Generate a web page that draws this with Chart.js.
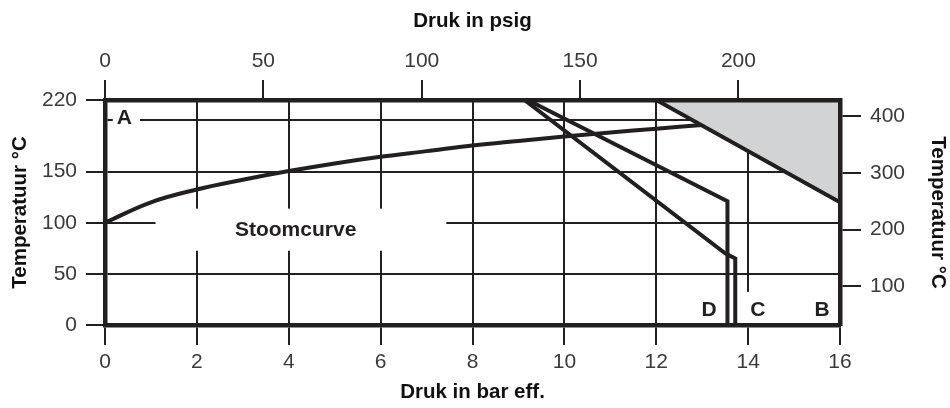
<!DOCTYPE html>
<html>
<head>
<meta charset="utf-8">
<title>Stoomcurve</title>
<script src="https://cdn.jsdelivr.net/npm/chart.js@4.4.0/dist/chart.umd.min.js"></script>
<style>
  html, body { margin: 0; padding: 0; background: #fff; }
  #wrap { width: 950px; height: 408px; position: relative; }
</style>
</head>
<body>
<div id="wrap"><canvas id="chart"></canvas></div>
<script>
// Steam curve: saturation temperature (°C) against gauge pressure (bar)
const steamPressure = [0, 1, 2, 3, 4, 5, 6, 7, 8, 9, 10, 11, 12, 13];
const steamTemp = [100, 120, 132.5, 142, 150.5, 158, 164.5, 170, 175.5, 180, 184.3, 188.3, 192, 195.5];

// Limit lines B, C and D
const pressureB = [12, 16];
const tempB = [220, 120];
const pressureC = [9.13, 13.5, 13.72, 13.72];
const tempC = [220, 70, 65, 0];
const pressureD = [9.2, 13.55, 13.55];
const tempD = [220, 121, 0];

// Axis ticks
const barTicks = [0, 2, 4, 6, 8, 10, 12, 14, 16];
const psigTicks = [0, 50, 100, 150, 200];
const tempTicks = [0, 50, 100, 150, 220];
const tempGrid = [50, 100, 150, 200];
const fahrTicks = [100, 200, 300, 400];

const barMax = 16;
const tempMax = 220;
const psiPerBar = 14.5038;

const ink = '#231f20';
const clear = 'rgba(0,0,0,0)';
const shade = '#d1d3d4';

Chart.defaults.font.family = '"Liberation Sans", Arial, sans-serif';

function toPoints(xs, ys) {
    return xs.map((v, i) => ({ x: v, y: ys[i] }));
}

function fixedTicks(values) {
    return function(scale) {
        scale.ticks = values.map(v => ({ value: v }));
    };
}

// Text labels with white gaps cut into the grid behind them
const textLabels = {
    id: 'textLabels',
    beforeDatasetsDraw(chart) {
        const { ctx, scales: { x, y } } = chart;
        const box = (x0, x1, y0, y1) => {
            const l = x.getPixelForValue(x0), r = x.getPixelForValue(x1);
            const t = y.getPixelForValue(y1), b = y.getPixelForValue(y0);
            ctx.fillRect(l, t, r - l, b - t);
        };
        const text = (s, xv, yv) => {
            ctx.fillText(s, x.getPixelForValue(xv), y.getPixelForValue(yv));
        };
        ctx.save();
        ctx.fillStyle = '#fff';
        box(0.17, 0.76, 190, 211);
        box(1.1, 7.43, 72.6, 113.8);
        box(13.83, 14.59, 0, 32.4);

        ctx.fillStyle = ink;
        ctx.font = 'bold 21px "Liberation Sans", Arial, sans-serif';
        ctx.textAlign = 'center';
        ctx.textBaseline = 'middle';
        text('A', 0.42, 202);
        text('Stoomcurve', 4.15, 92.5);
        text('D', 13.15, 14.7);
        text('C', 14.21, 14.7);
        text('B', 15.61, 14.7);
        ctx.restore();
    }
};

const lineStyle = {
    borderColor: ink,
    borderWidth: 4,
    pointRadius: 0,
    borderJoinStyle: 'miter',
    fill: false
};

const tickFont = { size: 21 };
const titleFont = { size: 20.5, weight: 'bold' };

new Chart(document.getElementById('chart'), {
    type: 'line',
    data: {
        datasets: [
            Object.assign({
                label: 'B',
                data: toPoints(pressureB, tempB),
                backgroundColor: shade
            }, lineStyle, { fill: 'end' }),
            Object.assign({
                label: 'Stoomcurve',
                data: toPoints(steamPressure, steamTemp),
                tension: 0.4
            }, lineStyle),
            Object.assign({
                label: 'C',
                data: toPoints(pressureC, tempC)
            }, lineStyle),
            Object.assign({
                label: 'D',
                data: toPoints(pressureD, tempD)
            }, lineStyle)
        ]
    },
    options: {
        responsive: true,
        maintainAspectRatio: false,
        animation: false,
        layout: { padding: 0 },
        plugins: {
            legend: { display: false },
            tooltip: { enabled: false }
        },
        scales: {
            x: {
                type: 'linear',
                position: 'bottom',
                min: 0,
                max: barMax,
                afterBuildTicks: fixedTicks(barTicks),
                afterFit: s => { s.height = 83; },
                grid: { color: ink, lineWidth: 2, tickLength: 20, tickColor: ink },
                border: { color: ink, width: 4.5, z: 1 },
                ticks: { color: '#3a3a3a', font: tickFont, padding: 5, maxRotation: 0, autoSkip: false },
                title: {
                    display: true,
                    text: 'Druk in bar eff.',
                    color: '#111',
                    font: titleFont,
                    padding: { top: 0, bottom: 3.5 }
                }
            },
            x2: {
                type: 'linear',
                position: 'top',
                min: 0,
                max: barMax * psiPerBar,
                afterBuildTicks: fixedTicks(psigTicks),
                afterFit: s => { s.height = 100; },
                grid: { drawOnChartArea: false, color: ink, lineWidth: 2, tickLength: 20 },
                border: { color: ink, width: 4.5, z: 1 },
                ticks: { color: '#3a3a3a', font: tickFont, padding: 6, maxRotation: 0, autoSkip: false },
                title: {
                    display: true,
                    text: 'Druk in psig',
                    color: '#111',
                    font: titleFont,
                    padding: { top: 9.5, bottom: 0 }
                }
            },
            y: {
                type: 'linear',
                position: 'left',
                min: 0,
                max: tempMax,
                afterBuildTicks: fixedTicks([...new Set([...tempTicks, ...tempGrid])].sort((a, b) => a - b)),
                afterFit: s => { s.width = 105; },
                grid: {
                    color: ctx => tempGrid.includes(ctx.tick.value) ? ink : clear,
                    tickColor: ctx => tempTicks.includes(ctx.tick.value) ? ink : clear,
                    lineWidth: 2,
                    tickLength: 19
                },
                border: { color: ink, width: 4.5, z: 1 },
                ticks: {
                    color: '#3a3a3a',
                    font: tickFont,
                    padding: 9,
                    autoSkip: false,
                    callback: v => tempTicks.includes(v) ? String(v) : ''
                },
                title: {
                    display: true,
                    text: 'Temperatuur °C',
                    color: '#111',
                    font: titleFont,
                    padding: { top: 8.5, bottom: 0 }
                }
            },
            y2: {
                type: 'linear',
                position: 'right',
                min: 32,
                max: tempMax * 9 / 5 + 32,
                afterBuildTicks: fixedTicks(fahrTicks),
                afterFit: s => { s.width = 110; },
                grid: { drawOnChartArea: false, color: ink, lineWidth: 2, tickLength: 21 },
                border: { color: ink, width: 4.5, z: 1 },
                ticks: { color: '#3a3a3a', font: tickFont, padding: 9, autoSkip: false },
                title: {
                    display: true,
                    text: 'Temperatuur °C',
                    color: '#111',
                    font: titleFont,
                    padding: { top: 0.5, bottom: 0 }
                }
            }
        }
    },
    plugins: [textLabels]
});
</script>
</body>
</html>
